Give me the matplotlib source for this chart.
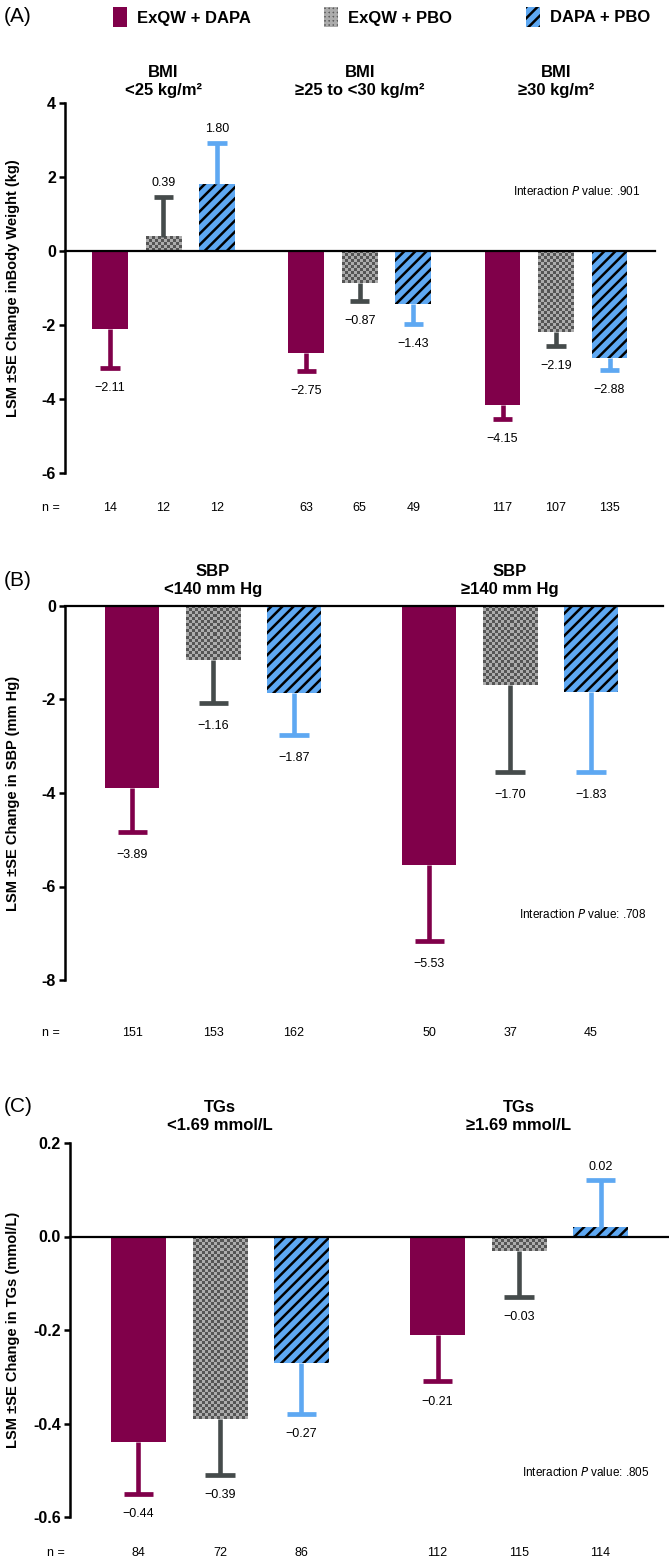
import matplotlib.pyplot as plt
from matplotlib.patches import Patch
from matplotlib.colors import ListedColormap
import numpy as np

plt.rcParams['font.family'] = ['Liberation Sans', 'DejaVu Sans']
plt.rcParams['hatch.linewidth'] = 1.8
plt.rcParams['hatch.color'] = 'black'

W, H = 669, 1560

series = ['ExQW + DAPA', 'ExQW + PBO', 'DAPA + PBO']
bar_colors = ['#80004a', '#828282', '#5ea8f2']
err_colors = ['#80004a', '#454b4b', '#5ea8f2']

# (A) body weight by BMI
bmi_groups = ['BMI\n<25 kg/m²', 'BMI\n≥25 to <30 kg/m²', 'BMI\n≥30 kg/m²']
bmi_lsm = [[-2.11, -2.75, -4.15], [0.39, -0.87, -2.19], [1.80, -1.43, -2.88]]
bmi_se = [[1.05, 0.50, 0.40], [1.08, 0.48, 0.38], [1.12, 0.55, 0.34]]
bmi_n = [[14, 63, 117], [12, 65, 107], [12, 49, 135]]
bmi_ticks = [4, 2, 0, -2, -4, -6]

# (B) SBP
sbp_groups = ['SBP\n<140 mm Hg', 'SBP\n≥140 mm Hg']
sbp_lsm = [[-3.89, -5.53], [-1.16, -1.70], [-1.87, -1.83]]
sbp_se = [[0.94, 1.63], [0.92, 1.85], [0.90, 1.72]]
sbp_n = [[151, 50], [153, 37], [162, 45]]
sbp_ticks = [0, -2, -4, -6, -8]

# (C) TGs
tg_groups = ['TGs\n<1.69 mmol/L', 'TGs\n≥1.69 mmol/L']
tg_lsm = [[-0.44, -0.21], [-0.39, -0.03], [-0.27, 0.02]]
tg_se = [[0.11, 0.10], [0.12, 0.10], [0.11, 0.10]]
tg_n = [[84, 112], [72, 115], [86, 114]]
tg_ticks = [0.2, 0.0, -0.2, -0.4, -0.6]

GAP = 3.67      # distance between group centres, in bar units
BW = 0.67       # bar width
CAP = 0.36      # error cap width

fig = plt.figure(figsize=(W / 100, H / 100), dpi=100)
checker = ListedColormap(['#555555', '#acacac'])


def px_axes(left, top, right, bottom):
    return fig.add_axes([left / W, 1 - bottom / H, (right - left) / W, (bottom - top) / H])


def panel(ax, groups, lsm, se, n, ticks, fmt, xlim, ylabel, pval, pxy, title_y, n_y, neg_off):
    ax.set_xlim(xlim)
    ax.set_ylim(ticks[-1], ticks[0])
    bb = ax.get_window_extent()
    ppx = bb.width / (xlim[1] - xlim[0])
    ppy = bb.height / (ticks[0] - ticks[-1])
    ng = len(groups)
    for s in range(3):
        x = np.arange(ng) * GAP + (s - 1)
        v = np.array(lsm[s])
        e = np.array(se[s])
        if s == 1:
            ax.bar(x, v, BW, color=bar_colors[s], linewidth=0)
            for xi, vi in zip(x, v):
                nx = max(2, int(round(BW * ppx / 3.0)))
                ny = max(1, int(round(abs(vi) * ppy / 3.0)))
                grid = np.indices((ny, nx)).sum(axis=0) % 2
                ax.imshow(grid, cmap=checker, interpolation='nearest', aspect='auto',
                          extent=[xi - BW / 2, xi + BW / 2, min(0, vi), max(0, vi)], zorder=1.5)
        elif s == 2:
            ax.bar(x, v, BW, color=bar_colors[s], hatch='///', linewidth=0)
        else:
            ax.bar(x, v, BW, color=bar_colors[s], linewidth=0)
        end = np.where(v >= 0, v + e, v - e)
        ax.vlines(x, v, end, color=err_colors[s], lw=3.3, zorder=3)
        ax.hlines(end, x - CAP / 2, x + CAP / 2, color=err_colors[s], lw=3.4, zorder=3)
        for xi, vi, ei in zip(x, v, end):
            lab = f'{vi:.2f}'.replace('-', '\u2212')
            off = 10 if vi >= 0 else neg_off
            ax.annotate(lab, (xi, ei), xytext=(0, off), textcoords='offset points',
                        ha='center', va='center', fontsize=9)
        for xi, ni in zip(x, n[s]):
            ax.text(xi, n_y, str(ni), transform=ax.get_xaxis_transform(),
                    ha='center', va='center', fontsize=9)
    ax.text(-0.024, n_y, 'n =', transform=ax.transAxes, ha='center', va='center', fontsize=9)
    for g, t in enumerate(groups):
        ax.text(g * GAP, title_y, t, transform=ax.get_xaxis_transform(), ha='center',
                va='center', fontsize=12, fontweight='bold', linespacing=1.25)
    ax.axhline(0, color='black', lw=1.6, zorder=4, clip_on=False)
    ax.text(pxy[0], pxy[1], 'Interaction $\\it{P}$ value: ' + pval, transform=ax.transAxes,
            ha='right', va='center', fontsize=8.5)
    ax.set_yticks(ticks)
    ax.set_yticklabels([fmt.format(t) for t in ticks], fontsize=11.5, fontweight='bold')
    ax.set_xticks([])
    for sp in ['top', 'right', 'bottom']:
        ax.spines[sp].set_visible(False)
    ax.spines['left'].set_linewidth(1.8)
    ax.tick_params(axis='y', width=1.8, length=4.5, pad=2)
    fig.text(13 / W, (bb.y0 + bb.height / 2) / H, ylabel, rotation=90, ha='center', va='center',
             fontsize=10.5, fontweight='bold')


axA = px_axes(65, 103, 655, 473)
panel(axA, bmi_groups, bmi_lsm, bmi_se, bmi_n, bmi_ticks, '{:g}', (-1.84, 9.19),
      'LSM \u00b1SE Change inBody Weight (kg)', '.901', (0.975, 0.762), 1.059, -0.095, -14.5)

axB = px_axes(65, 606, 663, 980)
panel(axB, sbp_groups, sbp_lsm, sbp_se, sbp_n, sbp_ticks, '{:g}', (-1.83, 5.56),
      'LSM \u00b1SE Change in SBP (mm Hg)', '.708', (0.972, 0.176), 1.067, -0.142, -16.5)

axC = px_axes(70, 1143, 669, 1517)
panel(axC, tg_groups, tg_lsm, tg_se, tg_n, tg_ticks, '{:.1f}', (-1.84, 5.51),
      'LSM \u00b1SE Change in TGs (mmol/L)', '.805', (0.968, 0.12), 1.07, -0.096, -14.5)

for lab, y in [('(A)', 17), ('(B)', 580), ('(C)', 1106)]:
    fig.text(4 / W, 1 - y / H, lab, fontsize=15, ha='left', va='center')

handles = [Patch(facecolor=bar_colors[0], linewidth=0),
           Patch(facecolor='#5e5e5e', edgecolor='#acacac', hatch='++++', linewidth=0),
           Patch(facecolor=bar_colors[2], hatch='///', linewidth=0)]
fig.legend(handles, series, loc='center left', bbox_to_anchor=(106 / W, 1 - 17 / H), ncol=3,
           frameon=False, prop={'weight': 'bold', 'size': 12}, handlelength=0.85,
           handleheight=1.5, handletextpad=0.6, columnspacing=4.4, borderaxespad=0)

fig.savefig('out.png', dpi=100)
